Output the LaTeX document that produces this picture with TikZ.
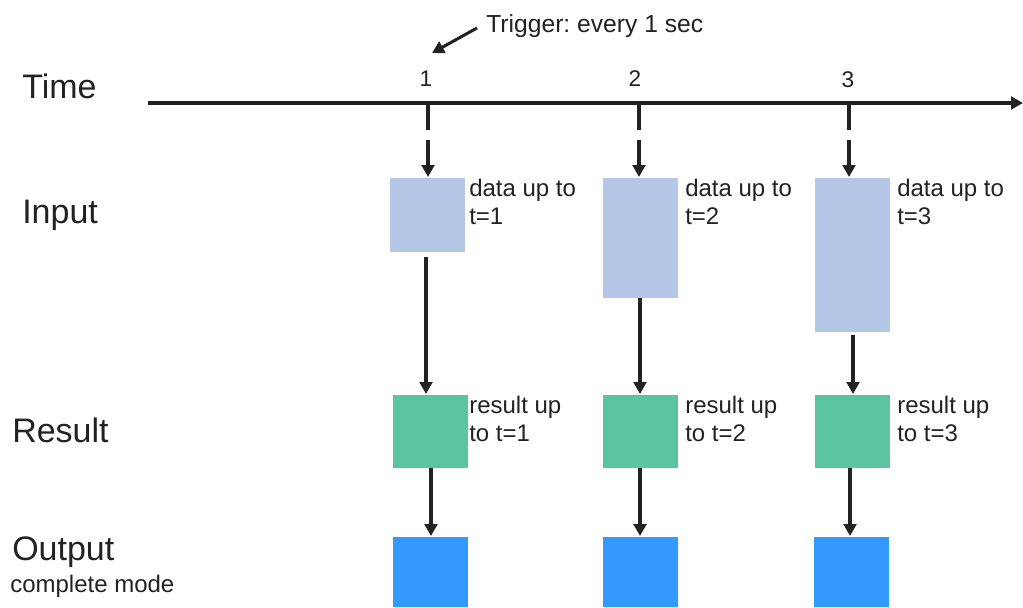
\documentclass[tikz,border=0pt]{standalone}
\usepackage{fontspec}
\setmainfont{Liberation Sans}
\usetikzlibrary{arrows.meta}
\definecolor{inblue}{HTML}{B4C7E7}
\definecolor{resgreen}{HTML}{5BC4A0}
\definecolor{outblue}{HTML}{3399FF}
\definecolor{ink}{HTML}{222222}
\frenchspacing
\begin{document}
\begin{tikzpicture}[x=0.75pt,y=-0.75pt,
  box/.style={rectangle, inner sep=0pt, outer sep=0pt, anchor=north west, draw=white, line width=0.4pt, minimum width=57pt},
  inbox/.style={box, fill=inblue},
  resbox/.style={box, fill=resgreen, minimum height=55.5pt},
  outbox/.style={box, fill=outblue, minimum height=53.25pt},
  arr/.style={line width=2.5pt, draw=ink, -{Triangle[length=9pt,width=9.5pt]}},
  tickarr/.style={arr, dash pattern=on 20.25pt off 7.5pt on 40pt},
  big/.style={font=\fontsize{25.5}{30}\selectfont, text=ink, anchor=base west, inner sep=0pt},
  small/.style={font=\fontsize{18}{21}\selectfont, text=ink, anchor=base west, align=left, inner sep=0pt},
  num/.style={font=\fontsize{17}{20}\selectfont, text=ink, anchor=base, inner sep=0pt}
]
\useasboundingbox (0,0) rectangle (1023,607);

% row labels
\node[big] (ltime) at (22,98) {Time};
\node[big] (linput) at (22,223) {Input};
\node[big] (lresult) at (12,442) {Result};
\node[big] (loutput) at (12,560) {Output};
\node[small] (lmode) at (10,592) {complete mode};

% time axis
\coordinate (axs) at (148,103);
\coordinate (axe) at (1023,103);
\draw[arr] (axs) -- (axe);
\coordinate (t1) at (428,103);
\coordinate (t2) at (639,103);
\coordinate (t3) at (849,103);
\node[num] (n1) at (426,86) {1};
\node[num] (n2) at (635,86) {2};
\node[num] (n3) at (848,87) {3};

% trigger
\node[small, font=\fontsize{18.5}{21}\selectfont] (trig) at (486,32) {Trigger: every 1 sec};
\coordinate (trs) at (477,28);
\coordinate (tre) at (432,53);
\draw[arr, line width=2.3pt] (trs) -- (tre);

% input boxes
\node[inbox, minimum height=56.25pt] (i1) at (389,177) {};
\node[inbox, minimum height=90.75pt] (i2) at (602,177) {};
\node[inbox, minimum height=116.25pt] (i3) at (814,177) {};
\node[small] (di1) at (469,224) {data up to\\t=1};
\node[small] (di2) at (685,224) {data up to\\t=2};
\node[small] (di3) at (897,224) {data up to\\t=3};

% result boxes
\node[resbox] (r1) at (392,394) {};
\node[resbox] (r2) at (602,394) {};
\node[resbox] (r3) at (814,394) {};
\node[small] (dr1) at (469,441) {result up\\to t=1};
\node[small] (dr2) at (685,441) {result up\\to t=2};
\node[small] (dr3) at (897,441) {result up\\to t=3};

% output boxes
\node[outbox] (o1) at (392,536) {};
\node[outbox] (o2) at (602,536) {};
\node[outbox] (o3) at (813,536) {};

% trigger ticks
\draw[tickarr] (t1) -- (t1 |- i1.north);
\draw[tickarr] (t2) -- (t2 |- i2.north);
\draw[tickarr] (t3) -- (t3 |- i3.north);

% input -> result
\coordinate (a1) at (426,257);
\coordinate (a2) at (640,298);
\coordinate (a3) at (853,335);
\draw[arr] (a1) -- (a1 |- r1.north);
\draw[arr] (a2) -- (a2 |- r2.north);
\draw[arr] (a3) -- (a3 |- r3.north);

% result -> output
\coordinate (b1) at (431,468);
\coordinate (b2) at (640,468);
\coordinate (b3) at (850,468);
\draw[arr] (b1) -- (b1 |- o1.north);
\draw[arr] (b2) -- (b2 |- o2.north);
\draw[arr] (b3) -- (b3 |- o3.north);
\end{tikzpicture}
\end{document}
